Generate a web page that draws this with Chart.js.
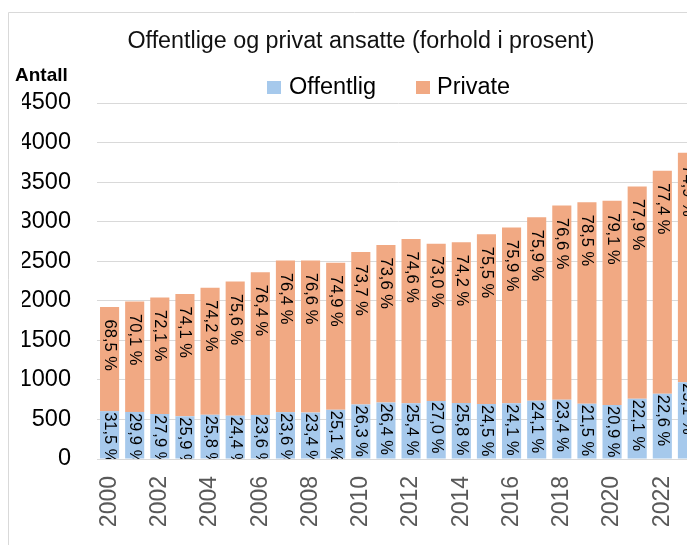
<!DOCTYPE html>
<html>
<head>
<meta charset="utf-8">
<script src="https://cdn.jsdelivr.net/npm/chart.js@4/dist/chart.umd.min.js"></script>
<style>
  html, body { margin: 0; padding: 0; overflow: hidden; background: #fff; }
  #wrap { width: 700px; height: 545px; }
</style>
</head>
<body>
<div id="wrap"><canvas id="c" width="700" height="545"></canvas></div>
<script>
const years = ['2000','2001','2002','2003','2004','2005','2006','2007','2008','2009','2010','2011',
               '2012','2013','2014','2015','2016','2017','2018','2019','2020','2021','2022','2023'];
const offentlig = [605, 595, 569, 540, 559, 548, 557, 592, 587, 622, 688, 714,
                   706, 734, 707, 696, 705, 736, 750, 698, 682, 761, 824, 971];
const privat = [1315, 1395, 1471, 1545, 1606, 1697, 1803, 1918, 1923, 1858, 1927, 1991,
                2074, 1986, 2033, 2144, 2220, 2319, 2455, 2547, 2583, 2684, 2821, 2899];
const offentligPct = [31.5, 29.9, 27.9, 25.9, 25.8, 24.4, 23.6, 23.6, 23.4, 25.1, 26.3, 26.4,
                      25.4, 27.0, 25.8, 24.5, 24.1, 24.1, 23.4, 21.5, 20.9, 22.1, 22.6, 25.1];
const privatPct = [68.5, 70.1, 72.1, 74.1, 74.2, 75.6, 76.4, 76.4, 76.6, 74.9, 73.7, 73.6,
                   74.6, 73.0, 74.2, 75.5, 75.9, 75.9, 76.6, 78.5, 79.1, 77.9, 77.4, 74.9];
const yTicks = [0, 500, 1000, 1500, 2000, 2500, 3000, 3500, 4000, 4500];

const FONT = "'Liberation Sans', Arial, sans-serif";
const BLUE = '#A6C9EC';
const ORANGE = '#F1A983';

function fmtPct(v) { return v.toFixed(1).replace('.', ',') + ' %'; }

const decorPlugin = {
  id: 'decor',
  beforeDraw(chart) {
    const ctx = chart.ctx;
    ctx.save();
    ctx.strokeStyle = '#D9D9D9';
    ctx.lineWidth = 1;
    ctx.beginPath();
    ctx.moveTo(8.5, 600);
    ctx.lineTo(8.5, 12.5);
    ctx.lineTo(800, 12.5);
    ctx.stroke();
    ctx.restore();
  },
  afterDraw(chart) {
    const ctx = chart.ctx;
    ctx.save();
    ctx.fillStyle = '#000';
    ctx.font = 'bold 19px ' + FONT;
    ctx.textAlign = 'left';
    ctx.textBaseline = 'alphabetic';
    ctx.fillText('Antall', 15, 81);
    const items = [
      { ds: chart.data.datasets[0], x: 267, tx: 289 },
      { ds: chart.data.datasets[1], x: 416, tx: 437 }
    ];
    ctx.font = '23.5px ' + FONT;
    items.forEach(it => {
      ctx.fillStyle = it.ds.backgroundColor;
      ctx.fillRect(it.x, 81, 14, 13);
      ctx.fillStyle = '#000';
      ctx.fillText(it.ds.label, it.tx, 94);
    });
    ctx.restore();
  },
  afterDatasetsDraw(chart) {
    const ctx = chart.ctx;
    const area = chart.chartArea;
    ctx.save();
    ctx.beginPath();
    ctx.rect(area.left, area.top, area.right - area.left, area.bottom - area.top);
    ctx.clip();
    ctx.fillStyle = '#000';
    ctx.font = '16.5px ' + FONT;
    ctx.textAlign = 'left';
    ctx.textBaseline = 'middle';
    const pctSets = [offentligPct, privatPct];
    const offsets = [1, 12.5];
    chart.data.datasets.forEach((ds, di) => {
      const meta = chart.getDatasetMeta(di);
      meta.data.forEach((el, i) => {
        const label = fmtPct(pctSets[di][i]);
        ctx.save();
        ctx.translate(el.x, el.y + offsets[di]);
        ctx.rotate(Math.PI / 2);
        ctx.fillText(label, 0, 0);
        ctx.restore();
      });
    });
    ctx.restore();
  }
};

new Chart(document.getElementById('c'), {
  type: 'bar',
  data: {
    labels: years,
    datasets: [
      { label: 'Offentlig', data: offentlig, backgroundColor: BLUE, borderWidth: 0,
        barPercentage: 0.76, categoryPercentage: 1.0 },
      { label: 'Private', data: privat, backgroundColor: ORANGE, borderWidth: 0,
        barPercentage: 0.76, categoryPercentage: 1.0 }
    ]
  },
  options: {
    responsive: false,
    animation: false,
    devicePixelRatio: 1,
    layout: { padding: { left: 22, right: 0, top: 0, bottom: 0 } },
    plugins: {
      legend: { display: false },
      tooltip: { enabled: false },
      title: {
        display: true,
        text: 'Offentlige og privat ansatte (forhold i prosent)',
        color: '#111',
        font: { family: FONT, size: 23.3, weight: 'normal', lineHeight: 1.2 },
        padding: { top: 28, bottom: 47.04 }
      }
    },
    scales: {
      x: {
        stacked: true,
        afterFit(scale) { scale.height = 86; scale.paddingLeft = 0; scale.paddingRight = 0; },
        grid: { display: false, drawTicks: false },
        border: { display: true, color: '#D9D9D9', width: 1 },
        ticks: {
          autoSkip: false,
          minRotation: 90,
          maxRotation: 90,
          padding: 17,
          color: '#595959',
          font: { family: FONT, size: 23 },
          callback: function(value, index) {
            const y = years[index];
            return Number(y) % 2 === 0 ? y : '';
          }
        }
      },
      y: {
        stacked: true,
        min: 0,
        max: 4500,
        afterFit(scale) { scale.width = 75; scale.paddingTop = 0; scale.paddingBottom = 0; },
        afterBuildTicks(scale) { scale.ticks = yTicks.map(v => ({ value: v })); },
        grid: { color: '#D9D9D9', lineWidth: 1, drawTicks: false },
        border: { display: false },
        ticks: {
          padding: 26,
          color: '#000',
          font: { family: FONT, size: 23.5 },
          callback: v => String(v)
        }
      }
    }
  },
  plugins: [decorPlugin]
});
</script>
</body>
</html>
